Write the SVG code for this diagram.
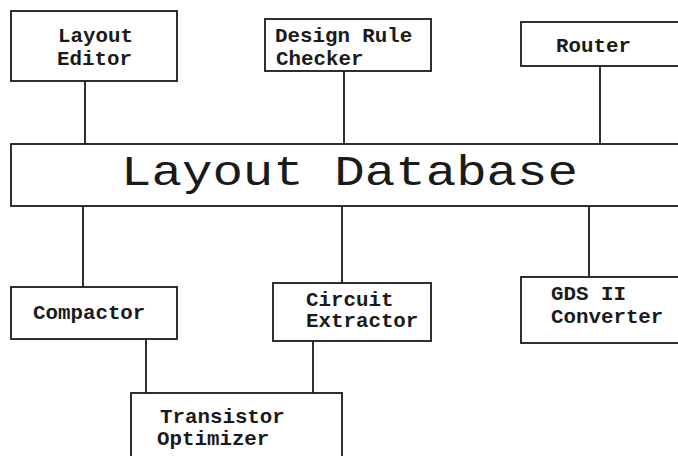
<svg xmlns="http://www.w3.org/2000/svg" width="678" height="456" viewBox="0 0 678 456">
  <style>
    .box { fill: #ffffff; stroke: #1a1a1a; stroke-width: 1.8; }
    .wire { stroke: #1a1a1a; stroke-width: 1.8; fill: none; }
    .lbl { font-family: "Liberation Mono", "Courier New", monospace; font-size: 20.8px; font-weight: bold; fill: #1a1a1a; }
    .big { font-family: "Liberation Mono", "Courier New", monospace; font-size: 42px; fill: #1a1a1a; }
  </style>
  <rect width="678" height="456" fill="#ffffff"/>

  <g id="connectors">
    <line class="wire" x1="85" y1="81" x2="85" y2="148"/>
    <line class="wire" x1="344" y1="71" x2="344" y2="148"/>
    <line class="wire" x1="600" y1="66" x2="600" y2="148"/>
    <line class="wire" x1="83" y1="206" x2="83" y2="290"/>
    <line class="wire" x1="342" y1="206" x2="342" y2="286"/>
    <line class="wire" x1="589" y1="206" x2="589" y2="280"/>
    <line class="wire" x1="146" y1="339" x2="146" y2="396"/>
    <line class="wire" x1="313" y1="341" x2="313" y2="396"/>
  </g>

  <g id="layout-editor">
    <rect class="box" x="11" y="11" width="166" height="70"/>
    <text class="lbl" x="58" y="42">Layout</text>
    <text class="lbl" x="57" y="65">Editor</text>
  </g>

  <g id="design-rule-checker">
    <rect class="box" x="265" y="19" width="166" height="52"/>
    <text class="lbl" x="275" y="42">Design Rule</text>
    <text class="lbl" x="276" y="65">Checker</text>
  </g>

  <g id="router">
    <rect class="box" x="521" y="22" width="170" height="44"/>
    <text class="lbl" x="556" y="52">Router</text>
  </g>

  <g id="layout-database">
    <rect class="box" x="11" y="144" width="680" height="62"/>
    <text class="big" x="121" y="185" textLength="457" lengthAdjust="spacingAndGlyphs">Layout Database</text>
  </g>

  <g id="compactor">
    <rect class="box" x="11" y="287" width="166" height="52"/>
    <text class="lbl" x="33" y="319">Compactor</text>
  </g>

  <g id="circuit-extractor">
    <rect class="box" x="273" y="283" width="158" height="58"/>
    <text class="lbl" x="306" y="306">Circuit</text>
    <text class="lbl" x="306" y="327">Extractor</text>
  </g>

  <g id="gds-converter">
    <rect class="box" x="521" y="277" width="170" height="66"/>
    <text class="lbl" x="551" y="300">GDS II</text>
    <text class="lbl" x="551" y="323">Converter</text>
  </g>

  <g id="transistor-optimizer">
    <rect class="box" x="131" y="393" width="211" height="80"/>
    <text class="lbl" x="160" y="423">Transistor</text>
    <text class="lbl" x="157" y="445">Optimizer</text>
  </g>
</svg>
